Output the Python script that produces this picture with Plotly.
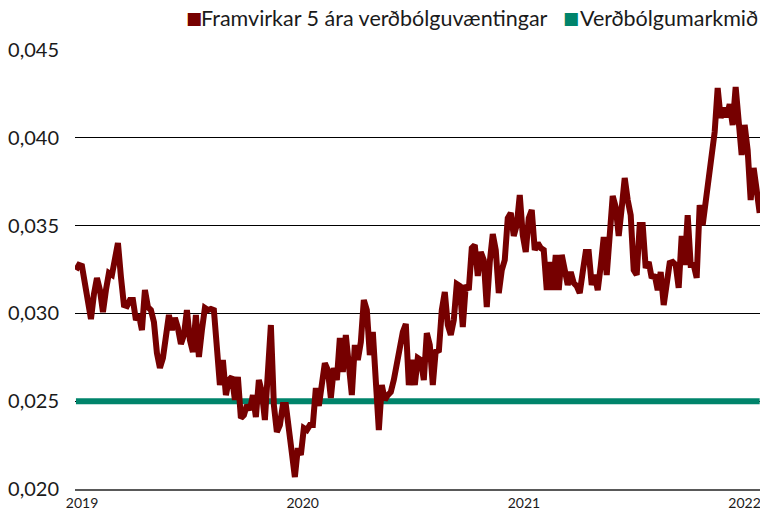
import pandas as pd
import plotly.graph_objects as go

# Framvirkar 5 ára verðbólguvæntingar
expectations = [
    0.03247, 0.03276, 0.03270, 0.03179, 0.03088, 0.02968, 0.03110, 0.03202, 0.03133, 0.03008,
    0.03133, 0.03230, 0.03219, 0.03310, 0.03401, 0.03207, 0.03048, 0.03042, 0.03076, 0.03076,
    0.02962, 0.02991, 0.02905, 0.03133, 0.03036, 0.03019, 0.02951, 0.02774, 0.02689, 0.02746,
    0.02860, 0.02991, 0.02905, 0.02974, 0.02917, 0.02826, 0.02877, 0.03019, 0.02848, 0.02780,
    0.02991, 0.02752, 0.02905, 0.03031, 0.03019, 0.03025, 0.03019, 0.02820, 0.02592, 0.02735,
    0.02535, 0.02621, 0.02638, 0.02507, 0.02638, 0.02404, 0.02421, 0.02478, 0.02450, 0.02535,
    0.02410, 0.02621, 0.02552, 0.02393, 0.02678, 0.02934, 0.02478, 0.02325, 0.02364, 0.02478,
    0.02478, 0.02364, 0.02205, 0.02068, 0.02233, 0.02194, 0.02347, 0.02336, 0.02364, 0.02364,
    0.02575, 0.02473, 0.02592, 0.02717, 0.02678, 0.02518, 0.02689, 0.02621, 0.02860, 0.02666,
    0.02877, 0.02678, 0.02535, 0.02820, 0.02735, 0.02837, 0.03076, 0.03019, 0.02763, 0.02894,
    0.02535, 0.02336, 0.02592, 0.02507, 0.02535, 0.02552, 0.02621, 0.02717, 0.02792, 0.02894,
    0.02940, 0.02592, 0.02735, 0.02592, 0.02746, 0.02735, 0.02621, 0.02888, 0.02820, 0.02592,
    0.02792, 0.02780, 0.03019, 0.03122, 0.02934, 0.02877, 0.02962, 0.03167, 0.03156, 0.02923,
    0.03162, 0.03133, 0.03372, 0.03389, 0.03213, 0.03350, 0.03304, 0.03036, 0.03293, 0.03452,
    0.03361, 0.03116, 0.03247, 0.03304, 0.03543, 0.03572, 0.03441, 0.03503, 0.03674, 0.03446,
    0.03350, 0.03543, 0.03589, 0.03361, 0.03401, 0.03372, 0.03361, 0.03133, 0.03293, 0.03133,
    0.03333, 0.03133, 0.03333, 0.03259, 0.03162, 0.03236, 0.03173, 0.03156, 0.03116, 0.03236,
    0.03350, 0.03350, 0.03162, 0.03219, 0.03133, 0.03270, 0.03435, 0.03219, 0.03452, 0.03669,
    0.03606, 0.03441, 0.03600, 0.03771, 0.03646, 0.03560, 0.03247, 0.03219, 0.03503, 0.03503,
    0.03259, 0.03293, 0.03202, 0.03219, 0.03133, 0.03236, 0.03048, 0.03179, 0.03287, 0.03293,
    0.03276, 0.03145, 0.03441, 0.03276, 0.03560, 0.03276, 0.03276, 0.03202, 0.03617, 0.03503,
    0.03646, 0.03760, 0.03874, 0.04033, 0.04284, 0.04113, 0.04170, 0.04118, 0.04192, 0.04073,
    0.04289, 0.04073, 0.03902, 0.04073, 0.03930, 0.03646, 0.03828, 0.03703, 0.03572,
]
series_start = "2018-12-22"
series_end = "2022-01-26"

# Verðbólgumarkmið
target_value = 0.025

year_ticks = ["2019-01-01", "2020-01-01", "2021-01-01", "2022-01-01"]
year_labels = ["2019", "2020", "2021", "2022"]
y_ticks = [0.020, 0.025, 0.030, 0.035, 0.040, 0.045]

name_exp = "Framvirkar 5 ára verðbólguvæntingar"
name_target = "Verðbólgumarkmið"

RED = "#760000"
TEAL = "#00846B"

dates = pd.date_range(series_start, series_end, periods=len(expectations))

fig = go.Figure()
fig.add_trace(go.Scatter(
    x=[dates[0], dates[-1]], y=[target_value, target_value],
    mode="lines", name=name_target, showlegend=False,
    line=dict(color=TEAL, width=6),
))
fig.add_trace(go.Scatter(
    x=dates, y=expectations, mode="lines", name=name_exp, showlegend=False,
    line=dict(color=RED, width=6),
))

FONT = "Lato, 'Open Sans', sans-serif"

annotations = [
    dict(text="■", x=0.160, xanchor="left", font=dict(family="DejaVu Sans", size=17, color=RED)),
    dict(text=name_exp, x=0.1825, xanchor="left", font=dict(family=FONT, size=21.5, color="#1a1a1a")),
    dict(text="■", x=0.711, xanchor="left", font=dict(family="DejaVu Sans", size=17, color=TEAL)),
    dict(text=name_target, x=0.998, xanchor="right", font=dict(family=FONT, size=21.5, color="#1a1a1a")),
]
for a in annotations:
    a.update(xref="paper", yref="paper", y=1.073, yanchor="middle", showarrow=False, borderpad=0)

fig.update_layout(
    width=760, height=511,
    margin=dict(l=75, r=0, t=50, b=22),
    paper_bgcolor="white", plot_bgcolor="white",
    separators=",.",
    font=dict(family=FONT, color="#1a1a1a"),
    showlegend=False,
    annotations=annotations,
    xaxis=dict(
        type="date",
        range=["2018-12-20 10:00", "2022-01-26 14:00"],
        tickvals=year_ticks, ticktext=year_labels,
        showgrid=False, zeroline=False,
        showline=True, linecolor="#595959", linewidth=2,
        ticks="", tickfont=dict(size=14, color="#1a1a1a"),
        ticklabeloverflow="allow",
    ),
    yaxis=dict(
        range=[0.020, 0.045],
        tickvals=y_ticks, tickformat=".3f",
        showgrid=True, gridcolor="black", gridwidth=1,
        zeroline=False, showline=False,
        ticks="outside", ticklen=11, tickcolor="rgba(0,0,0,0)",
        tickfont=dict(size=20, color="#1a1a1a"),
    ),
)

fig.write_html(
    "out.html",
    config={"displayModeBar": False},
    post_script="document.body.style.margin='0';document.body.style.padding='0';",
)
